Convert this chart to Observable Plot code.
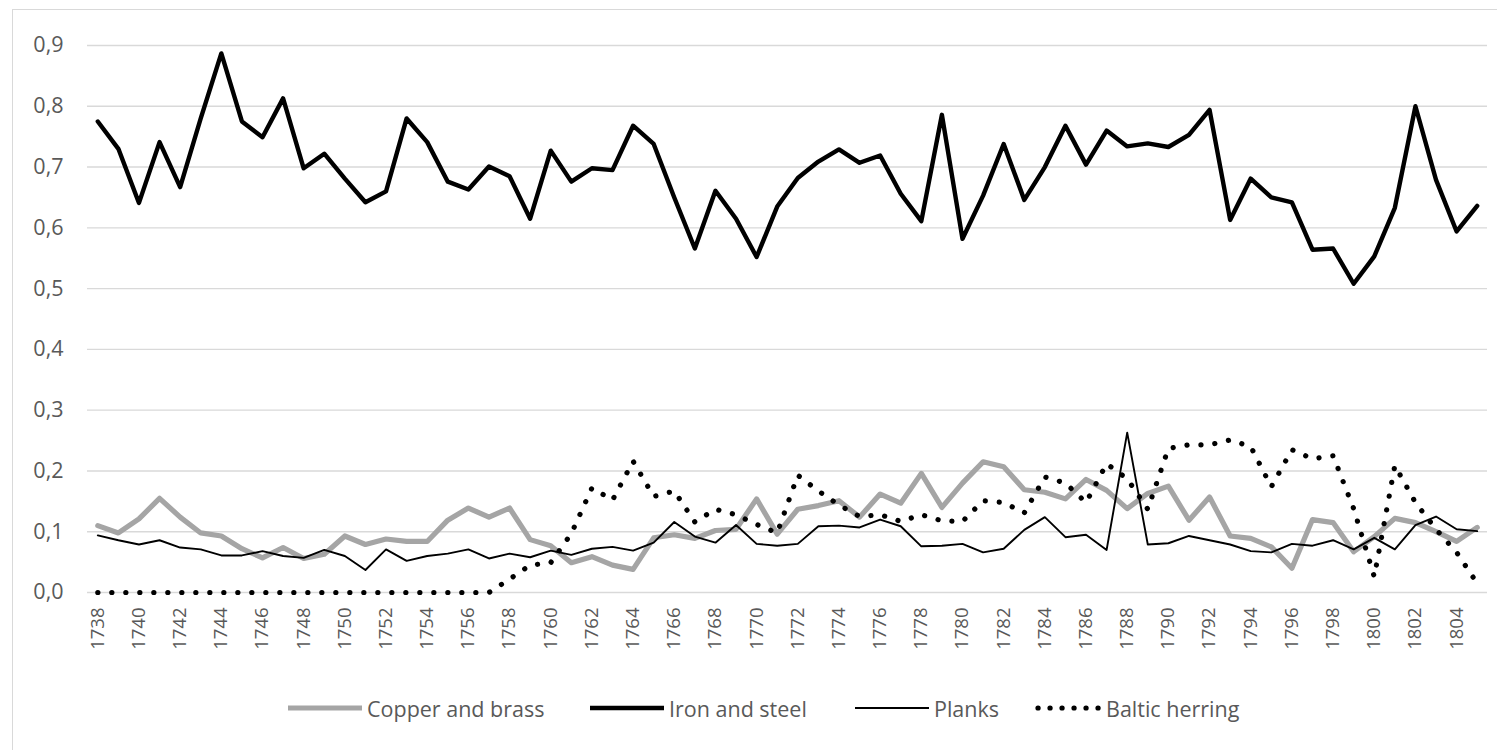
<!DOCTYPE html>
<html><head><meta charset="utf-8">
<script src="https://cdn.jsdelivr.net/npm/d3@7"></script>
<script src="https://cdn.jsdelivr.net/npm/@observablehq/plot@0.6"></script>
<style>
body{margin:0;background:#fff;width:1497px;height:750px;overflow:hidden;position:relative;font-family:"Open Sans",sans-serif;}
#frame{position:absolute;left:12px;top:9px;width:1530px;height:780px;border:1.5px solid #D9D9D9;box-sizing:border-box;}
#chart{position:absolute;left:0;top:0;}
.item{position:absolute;top:693px;height:30px;display:flex;align-items:center;color:#595959;font-size:21.5px;white-space:nowrap;}
.item svg{margin-right:5px;}
</style></head><body>
<div id="frame"></div>
<div id="chart"></div>
<div id="legend"></div>
<script>
const years = [1738,1739,1740,1741,1742,1743,1744,1745,1746,1747,1748,1749,1750,1751,1752,1753,1754,1755,1756,1757,1758,1759,1760,1761,1762,1763,1764,1765,1766,1767,1768,1769,1770,1771,1772,1773,1774,1775,1776,1777,1778,1779,1780,1781,1782,1783,1784,1785,1786,1787,1788,1789,1790,1791,1792,1793,1794,1795,1796,1797,1798,1799,1800,1801,1802,1803,1804,1805];
const xTickLabels = [1738,1740,1742,1744,1746,1748,1750,1752,1754,1756,1758,1760,1762,1764,1766,1768,1770,1772,1774,1776,1778,1780,1782,1784,1786,1788,1790,1792,1794,1796,1798,1800,1802,1804];
const yTickValues = [0,0.1,0.2,0.3,0.4,0.5,0.6,0.7,0.8,0.9];
const seriesNames = ["Copper and brass","Iron and steel","Planks","Baltic herring"];

const copper = [0.110,0.098,0.121,0.155,0.124,0.098,0.093,0.072,0.057,0.074,
0.056,0.063,0.093,0.079,0.088,0.084,0.084,0.119,0.139,0.124,
0.139,0.087,0.077,0.049,0.059,0.045,0.038,0.090,0.095,0.089,
0.102,0.104,0.154,0.096,0.137,0.143,0.151,0.124,0.162,0.147,
0.196,0.140,0.180,0.215,0.207,0.169,0.165,0.154,0.186,0.168,
0.138,0.163,0.175,0.119,0.157,0.093,0.089,0.075,0.040,0.120,
0.115,0.067,0.092,0.122,0.115,0.100,0.084,0.107];

const iron = [0.775,0.730,0.641,0.741,0.667,0.780,0.887,0.775,0.749,0.813,
0.698,0.722,0.681,0.642,0.660,0.780,0.741,0.676,0.663,0.701,
0.685,0.615,0.727,0.676,0.698,0.695,0.768,0.738,0.650,0.566,
0.661,0.615,0.552,0.635,0.682,0.709,0.729,0.707,0.719,0.656,
0.611,0.786,0.582,0.653,0.738,0.646,0.700,0.768,0.704,0.760,
0.734,0.739,0.733,0.753,0.794,0.613,0.681,0.650,0.642,0.564,
0.566,0.508,0.553,0.633,0.800,0.679,0.594,0.636];

const planks = [0.094,0.086,0.079,0.086,0.074,0.071,0.061,0.061,0.068,0.060,
0.057,0.070,0.060,0.037,0.071,0.052,0.060,0.064,0.071,0.056,
0.064,0.058,0.069,0.062,0.072,0.075,0.069,0.082,0.116,0.092,
0.082,0.111,0.080,0.077,0.080,0.109,0.110,0.107,0.120,0.109,
0.076,0.077,0.080,0.066,0.072,0.103,0.124,0.091,0.095,0.070,
0.263,0.079,0.081,0.093,0.086,0.079,0.068,0.066,0.080,0.077,
0.086,0.071,0.090,0.071,0.111,0.125,0.104,0.101];

const herring = [0,0,0,0,0,0,0,0,0,0,
0,0,0,0,0,0,0,0,0,0,
0.022,0.045,0.049,0.097,0.172,0.152,0.216,0.158,0.167,0.116,
0.137,0.128,0.112,0.098,0.193,0.167,0.144,0.125,0.128,0.117,
0.128,0.118,0.117,0.151,0.148,0.131,0.190,0.180,0.148,0.212,
0.187,0.137,0.237,0.243,0.243,0.251,0.240,0.174,0.235,0.220,
0.225,0.138,0.026,0.209,0.148,0.104,0.066,0.015];

const styles = [
  {stroke:"#A5A5A5", strokeWidth:5.2},
  {stroke:"#000000", strokeWidth:4.4},
  {stroke:"#000000", strokeWidth:1.9},
  {stroke:"#000000", strokeWidth:5.2, strokeDasharray:"0.1,13.9", strokeLinecap:"round"}
];
const seriesData = [copper, iron, planks, herring];

const chart = Plot.plot({
  width: 1497, height: 653,
  marginLeft: 87, marginRight: 10, marginTop: 45, marginBottom: 61,
  style: {background: "transparent", color: "#595959", fontFamily: "'Open Sans', sans-serif"},
  x: {type: "point", domain: years, padding: 0.5},
  y: {domain: [0, 0.9]},
  marks: [
    Plot.gridY(yTickValues, {stroke: "#D9D9D9", strokeOpacity: 1, strokeWidth: 1.4}),
    Plot.axisY(yTickValues, {tickSize: 0, tickPadding: 24, fontSize: 21.5, fill: "#595959",
      tickFormat: d => d.toFixed(1).replace(".", ","), label: null}),
    Plot.axisX(xTickLabels, {tickSize: 0, tickPadding: 15, tickRotate: -90, fontSize: 18.5, fill: "#595959",
      tickFormat: d => String(d), label: null}),
    ...seriesData.map((s, k) => Plot.lineY(s, {x: years, strokeLinejoin: "round", ...styles[k]}))
  ]
});
document.getElementById("chart").appendChild(chart);

const legendLeft = [288, 590, 855, 1035];
const swatchW = [74, 74, 74, 66];
const lg = document.getElementById("legend");
seriesNames.forEach((name, k) => {
  const st = styles[k];
  const div = document.createElement("div");
  div.className = "item";
  div.style.left = legendLeft[k] + "px";
  const w = swatchW[k];
  div.innerHTML = `<svg width="${w}" height="12"><line x1="${st.strokeDasharray ? 3 : 0}" x2="${w}" y1="6" y2="6" stroke="${st.stroke}" stroke-width="${st.strokeWidth}" ${st.strokeDasharray ? `stroke-dasharray="0.1,11.9" stroke-linecap="round"` : ""}/></svg><span>${name}</span>`;
  lg.appendChild(div);
});
</script>
</body></html>
